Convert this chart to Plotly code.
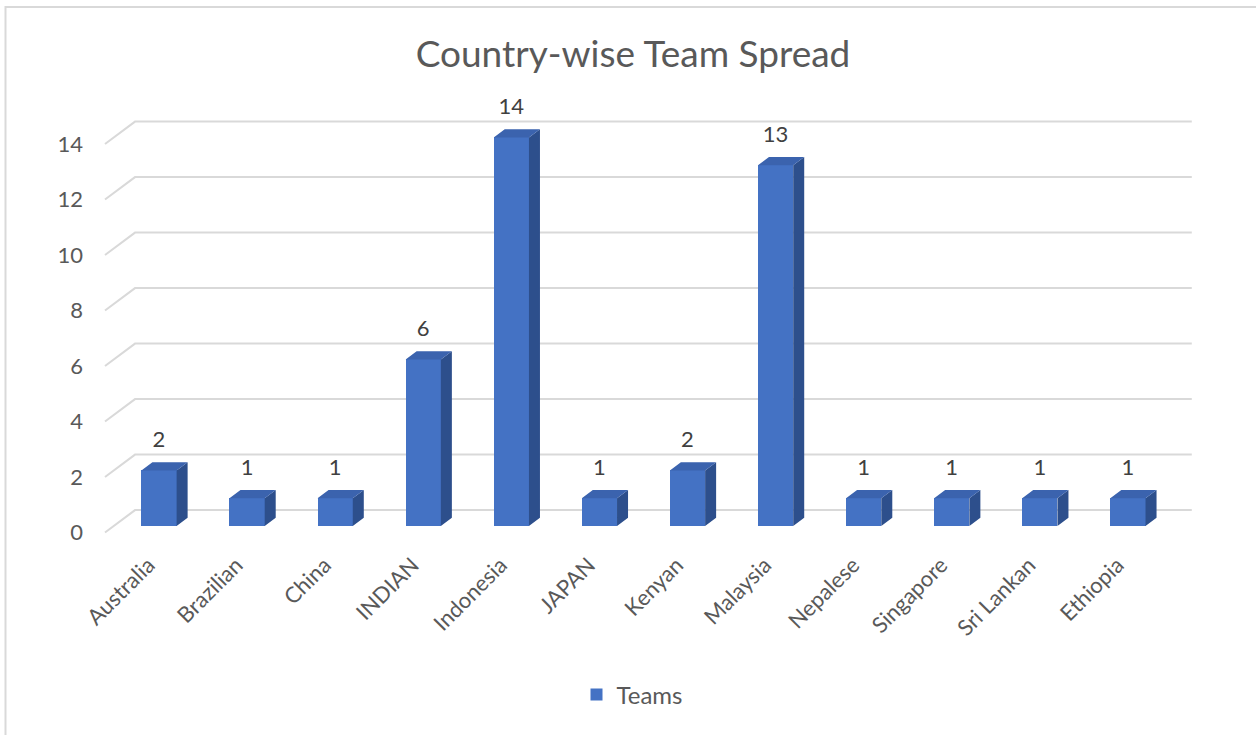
import plotly.graph_objects as go

# ---- data ----
countries = ["Australia", "Brazilian", "China", "INDIAN", "Indonesia", "JAPAN",
             "Kenyan", "Malaysia", "Nepalese", "Singapore", "Sri Lankan", "Ethiopia"]
teams = [2, 1, 1, 6, 14, 1, 2, 13, 1, 1, 1, 1]
y_ticks = [0, 2, 4, 6, 8, 10, 12, 14]
series_name = "Teams"
chart_title = "Country-wise Team Spread"

# ---- layout geometry ----
W, H = 1256, 735
L, R, T, B = 88, 40, 93, 198
X_RANGE = [-0.806, 12.0]
Y_RANGE = [-0.4, 15.6]

BAR_W = 0.4          # front face width (category units)
DEPTH_X = 0.125      # oblique depth offset, x
DEPTH_Y = 0.29       # oblique depth offset, y
FLOOR_FRONT = (-0.613, -0.24)   # front end of the wall gridline (dx, dy from value)
FLOOR_BACK = (-0.272, 0.57)     # back corner of the wall gridline
WALL_RIGHT = 11.725
LABEL_GAP = 1.05
CAT_LABEL_SHIFT = -0.12

FRONT = "#4472C4"
TOP = "#3B63AE"
SIDE = "#2D4F8C"
GRID = "#D9D9D9"
TEXT = "#595959"
FONT = "Lato"

xs = list(range(len(countries)))


def px_to_paper_x(px):
    return (px - L) / (W - L - R)


def px_to_paper_y(py):
    return (H - B - py) / (H - T - B)


fig = go.Figure()

# front faces
fig.add_trace(go.Bar(
    x=xs, y=teams, width=BAR_W, name=series_name,
    marker=dict(color=FRONT, line=dict(width=0)),
    showlegend=True, hoverinfo="x+y",
))

# side faces and top faces of the 3D columns
side_x, side_y, top_x, top_y = [], [], [], []
for x, v in zip(xs, teams):
    r = x + BAR_W / 2
    l = x - BAR_W / 2
    side_x += [r, r, r + DEPTH_X, r + DEPTH_X, r, None]
    side_y += [0, v, v + DEPTH_Y, DEPTH_Y, 0, None]
    top_x += [l, r, r + DEPTH_X, l + DEPTH_X, l, None]
    top_y += [v, v, v + DEPTH_Y, v + DEPTH_Y, v, None]

fig.add_trace(go.Scatter(
    x=side_x, y=side_y, mode="lines", fill="toself", fillcolor=SIDE,
    line=dict(width=0, color=SIDE), showlegend=False, hoverinfo="skip",
))
fig.add_trace(go.Scatter(
    x=top_x, y=top_y, mode="lines", fill="toself", fillcolor=TOP,
    line=dict(width=0, color=TOP), showlegend=False, hoverinfo="skip",
))

# value labels
fig.add_trace(go.Scatter(
    x=xs, y=[v + LABEL_GAP for v in teams], mode="text",
    text=[str(v) for v in teams], textposition="middle center",
    textfont=dict(family=FONT, size=22, color="#404040"),
    showlegend=False, hoverinfo="skip", cliponaxis=False,
))

# wall gridlines with their oblique floor segment
shapes = []
for v in y_ticks:
    path = (f"M {FLOOR_FRONT[0]},{v + FLOOR_FRONT[1]} "
            f"L {FLOOR_BACK[0]},{v + FLOOR_BACK[1]} "
            f"L {WALL_RIGHT},{v + FLOOR_BACK[1]}")
    shapes.append(dict(type="path", path=path, xref="x", yref="y", layer="below",
                       line=dict(color=GRID, width=2)))

# chart area border
shapes.append(dict(type="rect", xref="paper", yref="paper",
                   x0=px_to_paper_x(5.5), x1=px_to_paper_x(W + 20),
                   y0=px_to_paper_y(H + 20), y1=px_to_paper_y(7),
                   line=dict(color=GRID, width=2), fillcolor="rgba(0,0,0,0)",
                   layer="below"))

fig.update_layout(
    width=W, height=H,
    margin=dict(l=L, r=R, t=T, b=B, pad=0),
    paper_bgcolor="white", plot_bgcolor="white",
    font=dict(family=FONT, color=TEXT, size=20),
    title=dict(text=chart_title, x=633 / W, xref="container", xanchor="center",
               y=1 - 54 / H, yref="container", yanchor="middle",
               font=dict(family=FONT, size=37, color=TEXT)),
    bargap=0,
    showlegend=True,
    legend=dict(orientation="h", x=px_to_paper_x(632), xanchor="center",
                y=px_to_paper_y(695), yanchor="middle",
                font=dict(family=FONT, size=24, color=TEXT),
                bgcolor="rgba(0,0,0,0)"),
    shapes=shapes,
)

fig.update_xaxes(
    range=X_RANGE, tickmode="array",
    tickvals=[x + CAT_LABEL_SHIFT for x in xs], ticktext=countries,
    tickangle=-45, showgrid=False, zeroline=False, showline=False,
    ticks="", ticklabelstandoff=10,
    tickfont=dict(family=FONT, size=22, color=TEXT), fixedrange=True,
)
fig.update_yaxes(
    range=Y_RANGE, tickmode="array",
    tickvals=[v + FLOOR_FRONT[1] for v in y_ticks],
    ticktext=[str(v) for v in y_ticks],
    showgrid=False, zeroline=False, showline=False, ticks="",
    ticklabelstandoff=4,
    tickfont=dict(family=FONT, size=22, color=TEXT), fixedrange=True,
)

fig.write_html("out.html")
